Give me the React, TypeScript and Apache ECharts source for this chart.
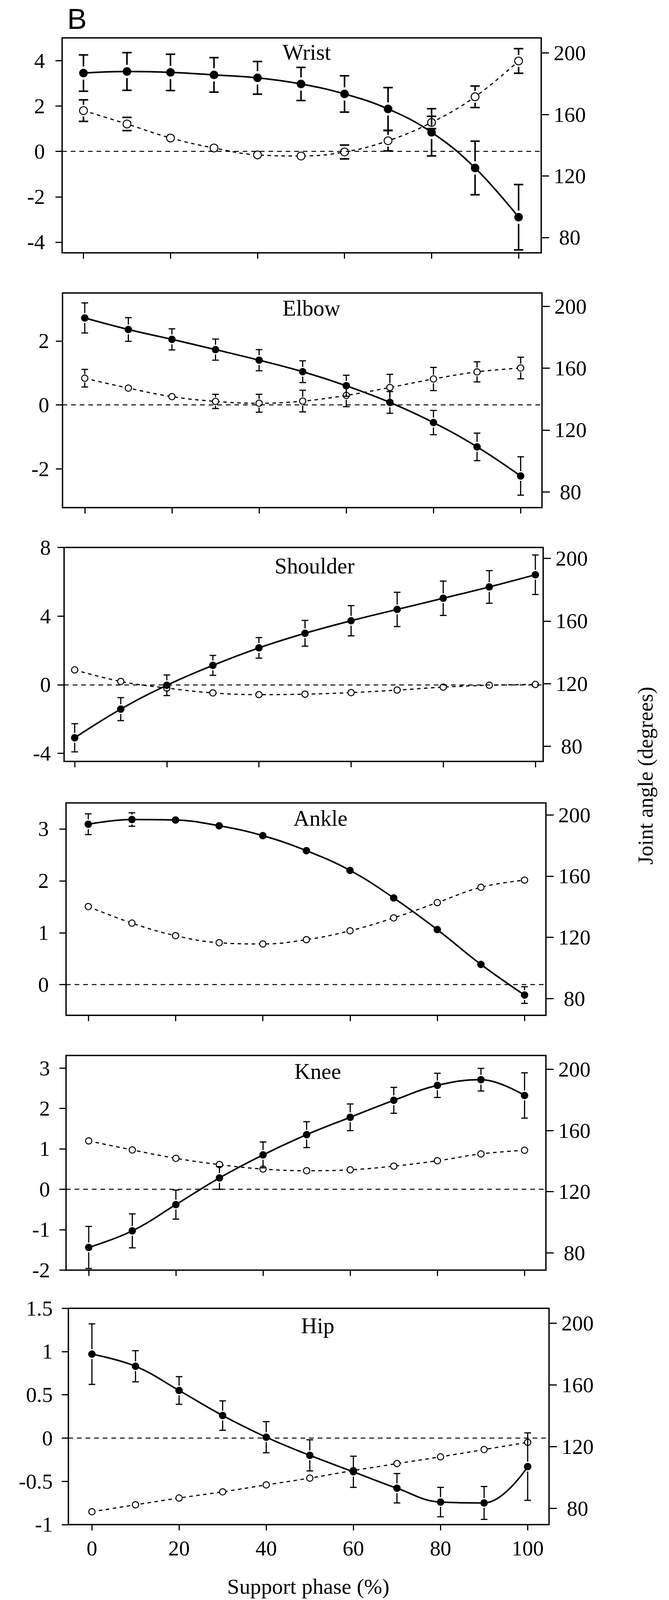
import React, { useEffect, useRef } from 'react';
import * as echarts from 'echarts';

// ---------- data ----------
const phase = [0, 10, 20, 30, 40, 50, 60, 70, 80, 90, 100];
const phaseTicks = [0, 20, 40, 60, 80, 100];
const angleTicks = [80, 120, 160, 200];

const wristSolid = [3.45, 3.52, 3.48, 3.37, 3.24, 2.97, 2.53, 1.87, 0.84, -0.73, -2.9];
const wristSolidErr = [0.8, 0.83, 0.8, 0.76, 0.72, 0.73, 0.8, 0.94, 1.04, 1.18, 1.44];
const wristOpen = [162.5, 153.8, 144.7, 138.2, 133.7, 133, 135.6, 142.9, 154.8, 171.5, 194.8];
const wristOpenErr = [7, 4.3, 0, 0, 0, 0, 4.5, 6.6, 4, 7, 8];
const wristTicks = [-4, -2, 0, 2, 4];

const elbowSolid = [2.72, 2.36, 2.05, 1.73, 1.4, 1.04, 0.6, 0.08, -0.55, -1.31, -2.22];
const elbowSolidErr = [0.47, 0.37, 0.33, 0.33, 0.33, 0.34, 0.33, 0.34, 0.38, 0.43, 0.6];
const elbowOpen = [153.5, 147.1, 141.6, 138.5, 137.3, 138.7, 142.4, 147.5, 153, 157.6, 160.1];
const elbowOpenErr = [5.7, 0, 0, 4.6, 5.8, 7, 7.3, 8.5, 7.5, 6.5, 7];
const elbowTicks = [-2, 0, 2];

const shoulderSolid = [-3.09, -1.42, -0.03, 1.13, 2.15, 3.0, 3.73, 4.39, 5.04, 5.7, 6.41];
const shoulderSolidErr = [0.82, 0.67, 0.6, 0.58, 0.6, 0.75, 0.88, 1.0, 1.0, 0.95, 1.15];
const shoulderOpen = [128.8, 121.4, 117.2, 114.1, 113, 113.3, 114.3, 115.9, 117.8, 119, 119.5];
const shoulderOpenErr = [0, 0, 0, 0, 0, 0, 0, 0, 0, 0, 0];
const shoulderTicks = [-4, 0, 4, 8];

const ankleSolid = [3.09, 3.18, 3.17, 3.06, 2.87, 2.58, 2.2, 1.67, 1.06, 0.39, -0.2];
const ankleSolidErr = [0.2, 0.13, 0, 0, 0, 0, 0, 0, 0, 0, 0.16];
const ankleOpen = [140.1, 129.3, 121.1, 116.5, 115.7, 118.5, 124.3, 132.7, 142.7, 152.7, 157.4];
const ankleOpenErr = [0, 0, 0, 0, 0, 0, 0, 0, 0, 0, 0];
const ankleTicks = [0, 1, 2, 3];

const kneeSolid = [-1.44, -1.03, -0.38, 0.28, 0.85, 1.35, 1.78, 2.2, 2.57, 2.71, 2.32];
const kneeSolidErr = [0.52, 0.42, 0.36, 0.28, 0.32, 0.32, 0.33, 0.32, 0.3, 0.28, 0.56];
const kneeOpen = [153.2, 147.3, 141.8, 137.7, 134.8, 133.7, 134.3, 136.7, 140.2, 144.7, 147.1];
const kneeOpenErr = [0, 0, 0, 0, 0, 0, 0, 0, 0, 0, 0];
const kneeTicks = [-2, -1, 0, 1, 2, 3];

const hipSolid = [0.97, 0.83, 0.55, 0.26, 0.01, -0.2, -0.39, -0.58, -0.74, -0.75, -0.33];
const hipSolidErr = [0.35, 0.18, 0.16, 0.17, 0.18, 0.18, 0.18, 0.17, 0.17, 0.19, 0.39];
const hipOpen = [77.8, 82.3, 86.7, 90.7, 95.2, 99.6, 104.5, 109, 113.4, 118.1, 122.8];
const hipOpenErr = [0, 0, 0, 0, 0, 0, 0, 0, 0, 0, 0];
const hipTicks = [-1, -0.5, 0, 0.5, 1, 1.5];

const panelLabel = 'B';
const xTitle = 'Support phase (%)';
const yRightTitle = 'Joint angle (degrees)';

// ---------- layout / styles ----------
const SERIF = '"Liberation Serif", "Times New Roman", Times, serif';
const FULL_W = 1712;
const FULL_H = 4942;

const panels = [
  { name: 'Wrist', solid: wristSolid, solidErr: wristSolidErr, open: wristOpen, openErr: wristOpenErr, ticks: wristTicks,
    lay: { left: 159, right: 1385, top: 117, height: 664, xMin: -4.9, xMax: 105.2, lMin: -4.47, lMax: 5.0, rMin: 70, rMax: 209.8, lMargin: 44, tx: 785, ty: 161, big: true } },
  { name: 'Elbow', solid: elbowSolid, solidErr: elbowSolidErr, open: elbowOpen, openErr: elbowOpenErr, ticks: elbowTicks,
    lay: { left: 160, right: 1387, top: 905, height: 663, xMin: -5.1, xMax: 104.9, lMin: -3.21, lMax: 3.5, rMin: 69.8, rMax: 208.6, lMargin: 34, tx: 797, ty: 951, big: false } },
  { name: 'Shoulder', solid: shoulderSolid, solidErr: shoulderSolidErr, open: shoulderOpen, openErr: shoulderOpenErr, ticks: shoulderTicks,
    lay: { left: 164, right: 1390, top: 1691, height: 661, xMin: -2.3, xMax: 101.7, lMin: -4.47, lMax: 8, rMin: 70.3, rMax: 207, lMargin: 34, tx: 805, ty: 1748, big: false } },
  { name: 'Ankle', solid: ankleSolid, solidErr: ankleSolidErr, open: ankleOpen, openErr: ankleOpenErr, ticks: ankleTicks,
    lay: { left: 169, right: 1397, top: 2480, height: 656, xMin: -5.1, xMax: 104.9, lMin: -0.59, lMax: 3.5, rMin: 69.1, rMax: 207.8, lMargin: 44, tx: 820, ty: 2527, big: false } },
  { name: 'Knee', solid: kneeSolid, solidErr: kneeSolidErr, open: kneeOpen, openErr: kneeOpenErr, ticks: kneeTicks,
    lay: { left: 169, right: 1397, top: 3260, height: 663, xMin: -5.2, xMax: 104.9, lMin: -2, lMax: 3.31, rMin: 68.7, rMax: 209.1, lMargin: 41, tx: 813, ty: 3309, big: false } },
  { name: 'Hip', solid: hipSolid, solidErr: hipSolidErr, open: hipOpen, openErr: hipOpenErr, ticks: hipTicks,
    lay: { left: 175, right: 1405, top: 4041, height: 668, xMin: -5.4, xMax: 104.9, lMin: -1, lMax: 1.5, rMin: 69.5, rMax: 209.6, lMargin: 40, tx: 813, ty: 4094, big: false } },
];

function makeErrRender(radius: number, gap: number, cap: number, lw: number) {
  return (params: any, api: any) => {
    const x = api.value(0);
    const y = api.value(1);
    const e = api.value(2);
    if (!e) return { type: 'group', children: [] };
    const c = api.coord([x, y]);
    const t = api.coord([x, y + e]);
    const b = api.coord([x, y - e]);
    const style = { stroke: '#000', lineWidth: lw };
    const children: any[] = [];
    const upEnd = c[1] - radius - gap;
    const downStart = c[1] + radius + gap;
    if (t[1] < upEnd) {
      children.push({ type: 'line', shape: { x1: c[0], y1: t[1], x2: c[0], y2: upEnd }, style });
    }
    if (b[1] > downStart) {
      children.push({ type: 'line', shape: { x1: c[0], y1: downStart, x2: c[0], y2: b[1] }, style });
    }
    children.push({ type: 'line', shape: { x1: c[0] - cap / 2, y1: t[1], x2: c[0] + cap / 2, y2: t[1] }, style });
    children.push({ type: 'line', shape: { x1: c[0] - cap / 2, y1: b[1], x2: c[0] + cap / 2, y2: b[1] }, style });
    return { type: 'group', children };
  };
}

function buildOption(sy: number) {
  const Y = (v: number) => v * sy;
  const fs = (v: number) => Math.round(v * (0.5 + 0.5 * sy) * 10) / 10;
  const grid: any[] = [];
  const xAxis: any[] = [];
  const yAxis: any[] = [];
  const series: any[] = [];
  const graphic: any[] = [];

  panels.forEach((p, i) => {
    const L = p.lay;
    const last = i === panels.length - 1;
    grid.push({
      left: L.left, top: Y(L.top), width: L.right - L.left, height: Y(L.height),
      show: true, borderColor: '#000', borderWidth: 3.5, backgroundColor: 'transparent',
      containLabel: false, outerBoundsMode: 'none',
    });
    xAxis.push({
      type: 'value', gridIndex: i, position: 'bottom', min: L.xMin, max: L.xMax,
      axisLine: { show: false, onZero: false },
      axisTick: { show: true, inside: false, length: Y(18), lineStyle: { color: '#000', width: 3 }, customValues: phaseTicks },
      axisLabel: { show: last, customValues: phaseTicks, fontSize: fs(60), fontFamily: SERIF, color: '#000', margin: Y(40) },
      splitLine: { show: false },
    });
    yAxis.push({
      type: 'value', gridIndex: i, position: 'left', min: L.lMin, max: L.lMax,
      axisLine: { show: false, onZero: false },
      axisTick: { show: true, inside: false, length: 17, lineStyle: { color: '#000', width: 3 }, customValues: p.ticks },
      axisLabel: { show: true, customValues: p.ticks, fontSize: fs(60), fontFamily: SERIF, color: '#000', margin: L.lMargin },
      splitLine: { show: false },
    });
    yAxis.push({
      type: 'value', gridIndex: i, position: 'right', min: L.rMin, max: L.rMax,
      axisLine: { show: false, onZero: false },
      axisTick: { show: true, inside: false, length: 20, lineStyle: { color: '#000', width: 3 }, customValues: angleTicks },
      axisLabel: { show: true, customValues: angleTicks, fontSize: fs(60), fontFamily: SERIF, color: '#000', margin: 73, align: 'center' },
      splitLine: { show: false },
    });

    const solidSize = L.big ? 22 : 19;
    const openSize = L.big ? 20 : 16;
    const cap = L.big ? 24 : 17;
    const lw = L.big ? 4 : 3;

    series.push({
      type: 'line', xAxisIndex: i, yAxisIndex: 2 * i,
      data: phase.map((x, k) => [x, p.solid[k]]),
      smooth: 0.4, symbol: 'circle', symbolSize: solidSize,
      itemStyle: { color: '#000' },
      lineStyle: { color: '#000', width: 4 },
      z: 4,
      markLine: {
        silent: true, symbol: 'none', label: { show: false },
        lineStyle: { color: '#000', width: 2.5, type: [12, 10] },
        data: [{ yAxis: 0 }],
      },
    });
    series.push({
      type: 'line', xAxisIndex: i, yAxisIndex: 2 * i + 1,
      data: phase.map((x, k) => [x, p.open[k]]),
      smooth: 0.4, symbol: 'circle', symbolSize: openSize,
      itemStyle: { color: '#fff', borderColor: '#000', borderWidth: 2.5 },
      lineStyle: { color: '#000', width: 3, type: [9, 9] },
      z: 3,
    });
    series.push({
      type: 'custom', xAxisIndex: i, yAxisIndex: 2 * i,
      data: phase.map((x, k) => [x, p.solid[k], p.solidErr[k]]),
      encode: { x: 0, y: 1 },
      renderItem: makeErrRender(solidSize / 2, L.big ? 6 : 3, cap, lw),
      z: 5, silent: true,
    });
    series.push({
      type: 'custom', xAxisIndex: i, yAxisIndex: 2 * i + 1,
      data: phase.map((x, k) => [x, p.open[k], p.openErr[k]]),
      encode: { x: 0, y: 1 },
      renderItem: makeErrRender(openSize / 2, L.big ? 5 : 3, cap, lw),
      z: 5, silent: true,
    });

    graphic.push({
      type: 'text', x: L.tx, y: Y(L.ty), z: 10,
      style: { text: p.name, fontSize: fs(62), fontFamily: SERIF, fill: '#000', align: 'center', verticalAlign: 'middle' },
    });
  });

  graphic.push({
    type: 'text', x: 172, y: 10, z: 10,
    style: { text: panelLabel, fontSize: fs(82), fontFamily: '"Liberation Sans", Arial, sans-serif', fill: '#000', align: 'left', verticalAlign: 'top' },
  });
  graphic.push({
    type: 'text', x: 789, y: Y(4900), z: 10,
    style: { text: xTitle, fontSize: fs(61), fontFamily: SERIF, fill: '#000', align: 'center', verticalAlign: 'middle' },
  });
  graphic.push({
    type: 'text', x: 1651, y: Y(2396), rotation: Math.PI / 2, z: 10,
    style: { text: yRightTitle, fontSize: 66 * sy, fontFamily: SERIF, fill: '#000', align: 'center', verticalAlign: 'middle' },
  });

  return {
    animation: false,
    backgroundColor: '#fff',
    textStyle: { fontFamily: SERIF, color: '#000' },
    grid, xAxis, yAxis, series, graphic,
  };
}

function getScaleY() {
  if (typeof window === 'undefined') return 1;
  const h = window.innerHeight || FULL_H;
  return Math.min(1, h / FULL_H);
}

export default function App() {
  const ref = useRef<HTMLDivElement>(null);
  const sy = getScaleY();
  useEffect(() => {
    document.body.style.margin = '0';
    if (!ref.current) return;
    const chart = echarts.init(ref.current, null, { renderer: 'svg' });
    chart.setOption(buildOption(sy) as any);
    return () => chart.dispose();
  }, [sy]);
  return <div ref={ref} style={{ width: FULL_W, height: Math.floor(FULL_H * sy), background: '#fff' }} />;
}
